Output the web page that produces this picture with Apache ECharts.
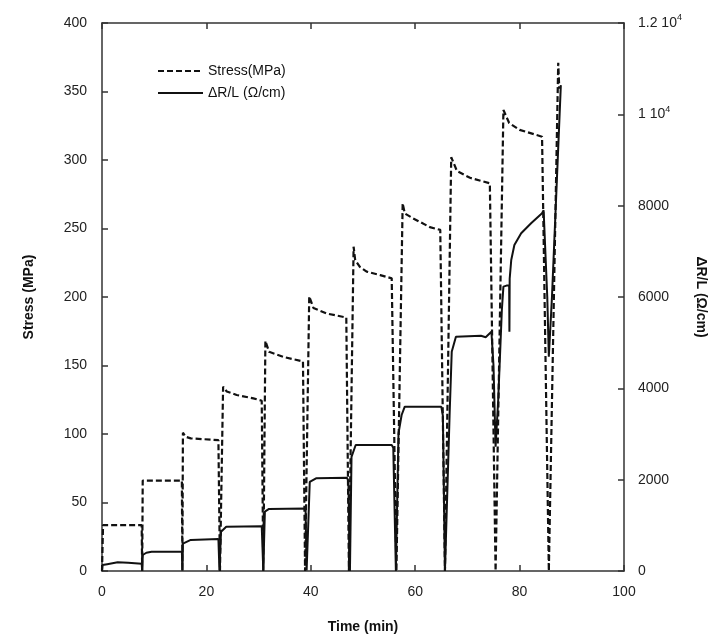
<!DOCTYPE html>
<html>
<head>
<meta charset="utf-8">
<script src="https://cdn.jsdelivr.net/npm/echarts@6/dist/echarts.min.js"></script>
<style>html,body{margin:0;padding:0;background:#fff}#c{width:718px;height:641px}</style>
</head>
<body>
<div id="c"></div>
<script>
// Time (min) and Stress (MPa) for the dashed curve
const stressTime = [0, 0.2, 7.6, 7.7, 7.8, 15.3, 15.4, 15.5, 16.0, 17.0, 22.3, 22.6, 23.2, 23.9, 25.8, 29.0, 30.6, 30.9, 31.3, 32.0, 35.0, 38.5, 38.9, 39.7, 40.5, 43.0, 46.8, 47.3, 48.2, 48.5, 49.4, 50.7, 53.3, 55.5, 56.4, 57.6, 58.0, 59.6, 62.8, 64.8, 65.7, 66.9, 68.0, 70.5, 74.3, 75.4, 76.9, 78.0, 80.0, 84.3, 85.6, 87.4, 87.6];
const stressValues = [0, 33.5, 33.5, 0, 66, 66, 0, 101, 98, 96.8, 95.5, 0, 134.5, 131, 128.5, 126, 124.3, 0, 168, 160, 156, 153, 0, 200.5, 192, 188, 185, 0, 236.7, 227, 222, 218.5, 216, 213.6, 0, 268.4, 261, 257.4, 251, 249, 0, 302, 292, 287, 283, 0, 336.5, 327, 322, 317, 0, 371, 352];
// Time (min) and ΔR/L (Ω/cm) for the solid curve
const resTime = [0, 0.1, 1.0, 3.0, 5.0, 7.6, 7.7, 7.8, 8.5, 9.5, 15.3, 15.4, 15.5, 17.0, 22.3, 22.5, 22.8, 23.8, 30.6, 30.9, 31.2, 32.0, 39.0, 39.2, 39.8, 41.0, 46.9, 47.2, 47.5, 47.8, 48.6, 55.5, 55.8, 56.3, 56.8, 57.4, 58.0, 65.0, 65.3, 65.7, 66.6, 67.0, 67.8, 72.6, 73.5, 74.6, 75.0, 75.4, 75.9, 76.6, 76.9, 77.5, 78.0, 78.05, 78.1, 78.4, 79.0, 80.3, 82.2, 84.3, 84.6, 85.3, 85.6, 86.2, 87.9];
const resValues = [0, 130, 150, 190, 180, 160, 10, 350, 400, 420, 420, 10, 600, 680, 700, 10, 860, 970, 980, 10, 1300, 1360, 1370, 10, 1950, 2030, 2040, 1980, 0, 2500, 2760, 2760, 2700, 0, 3015, 3416, 3598, 3598, 3400, 0, 3453, 4803, 5131, 5150, 5120, 5241, 4500, 2722, 3745, 5716, 6226, 6250, 6250, 5241, 6400, 6811, 7139, 7395, 7614, 7833, 7900, 6000, 4693, 6000, 10640];
// axis ticks
const xTicks = [0, 20, 40, 60, 80, 100];
const leftTicks = [0, 50, 100, 150, 200, 250, 300, 350, 400];
const rightTicks = [0, 2000, 4000, 6000, 8000, 10000, 12000];

const stressData = stressTime.map((t, i) => [t, stressValues[i]]);
const resData = resTime.map((t, i) => [t, resValues[i]]);

const axisColor = '#333';
const lblFont = {color: '#222', fontSize: 14, fontFamily: 'Liberation Sans'};
const nameFont = {color: '#111', fontSize: 14, fontWeight: 'bold', fontFamily: 'Liberation Sans'};
const lineCfg = {show: true, onZero: false, lineStyle: {color: axisColor, width: 1.5}};
const tickCfg = {show: true, inside: true, length: 6, lineStyle: {color: axisColor, width: 1.5}};

const chart = echarts.init(document.getElementById('c'));
chart.setOption({
  animation: false,
  backgroundColor: '#fff',
  grid: {left: 102, right: 94, top: 23, bottom: 70, containLabel: false},
  legend: {
    orient: 'vertical', left: 152, top: 59, itemWidth: 45, itemHeight: 10, itemGap: 8,
    itemStyle: {opacity: 0},
    textStyle: {color: '#111', fontSize: 14, fontFamily: 'Liberation Sans'},
    data: [{name: 'Stress(MPa)'}, {name: 'ΔR/L (Ω/cm)'}]
  },
  xAxis: [{
    type: 'value', min: xTicks[0], max: xTicks[xTicks.length - 1], interval: 20,
    name: 'Time (min)', nameLocation: 'middle', nameGap: 49, nameTextStyle: nameFont,
    axisLine: lineCfg, axisTick: tickCfg,
    axisLabel: Object.assign({margin: 14}, lblFont),
    splitLine: {show: false}
  }, {
    type: 'value', position: 'top', min: 0, max: 100, interval: 20,
    axisLine: lineCfg, axisTick: tickCfg,
    axisLabel: {show: false}, splitLine: {show: false}
  }],
  yAxis: [{
    type: 'value', position: 'left', min: leftTicks[0], max: leftTicks[leftTicks.length - 1], interval: 50,
    name: 'Stress (MPa)', nameLocation: 'middle', nameGap: 66, nameRotate: 90, nameTextStyle: nameFont,
    axisLine: lineCfg, axisTick: tickCfg,
    axisLabel: Object.assign({margin: 15}, lblFont),
    splitLine: {show: false}
  }, {
    type: 'value', position: 'right', min: rightTicks[0], max: rightTicks[rightTicks.length - 1], interval: 2000,
    name: 'ΔR/L (Ω/cm)', nameLocation: 'middle', nameGap: 70, nameRotate: -90, nameTextStyle: nameFont,
    axisLine: lineCfg, axisTick: tickCfg,
    axisLabel: Object.assign({
      margin: 14,
      formatter: function (v) {
        if (v >= 10000) {
          const m = v / 10000;
          return '{a|' + m + ' 10}{s|4}';
        }
        return '{a|' + v + '}';
      },
      rich: {
        a: {fontSize: 14, color: '#222', fontFamily: 'Liberation Sans'},
        s: {fontSize: 9, color: '#222', fontFamily: 'Liberation Sans', padding: [0, 0, 10, 0]}
      }
    }, lblFont),
    splitLine: {show: false}
  }],
  series: [{
    name: 'Stress(MPa)', type: 'line', xAxisIndex: 0, yAxisIndex: 0, data: stressData,
    showSymbol: false, symbol: 'none',
    lineStyle: {color: '#111', width: 2.2, type: [6, 3]},
    itemStyle: {color: '#111'}
  }, {
    name: 'ΔR/L (Ω/cm)', type: 'line', xAxisIndex: 0, yAxisIndex: 1, data: resData,
    showSymbol: false, symbol: 'none',
    lineStyle: {color: '#111', width: 2},
    itemStyle: {color: '#111'}
  }]
});
</script>
</body>
</html>
